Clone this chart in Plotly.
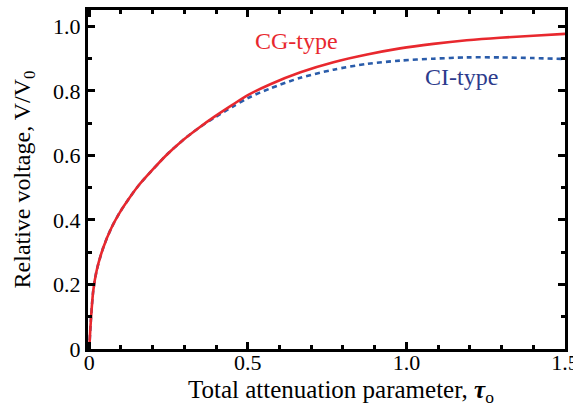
import plotly.graph_objects as go

tau = [0, 0.005, 0.0125, 0.023, 0.044, 0.070, 0.096, 0.127, 0.158, 0.197, 0.242, 0.296, 0.346,
       0.396, 0.45, 0.5, 0.571, 0.666, 0.77, 0.876, 0.98, 1.085, 1.19, 1.295, 1.4, 1.5]
cg_type = [0, 0.088, 0.180, 0.242, 0.314, 0.376, 0.423, 0.469, 0.510, 0.553, 0.600, 0.648, 0.686,
           0.721, 0.756, 0.787, 0.821, 0.858, 0.889, 0.913, 0.932, 0.946, 0.957, 0.965, 0.971, 0.977]
ci_type = [0, 0.088, 0.180, 0.242, 0.314, 0.376, 0.423, 0.469, 0.510, 0.553, 0.600, 0.648, 0.686,
           0.718, 0.750, 0.778, 0.808, 0.841, 0.866, 0.884, 0.894, 0.900, 0.904, 0.904, 0.902, 0.899]

x_ticks = [0, 0.5, 1.0, 1.5]
x_ticklabels = ["0", "0.5", "1.0", "1.5"]
y_ticks = [0, 0.2, 0.4, 0.6, 0.8, 1.0]
y_ticklabels = ["0", "0.2", "0.4", "0.6", "0.8", "1.0"]

FONT = "Liberation Serif"
RED = "#e8282e"
BLUE = "#2a5caa"
NAVY = "#2d3b8c"

fig = go.Figure()
fig.add_trace(go.Scatter(x=tau, y=ci_type, mode="lines", name="CI-type",
                         line=dict(color=BLUE, width=2.6, dash="5px,4px", shape="spline", smoothing=0.8)))
fig.add_trace(go.Scatter(x=tau, y=cg_type, mode="lines", name="CG-type",
                         line=dict(color=RED, width=2.6, shape="spline", smoothing=0.8)))

fig.add_annotation(x=0.653, y=0.955, text="CG-type", showarrow=False,
                   font=dict(family=FONT, size=24, color=RED))
fig.add_annotation(x=1.175, y=0.843, text="CI-type", showarrow=False,
                   font=dict(family=FONT, size=24, color=NAVY))

# x-axis title placed as annotation to match the reference position
fig.add_annotation(xref="paper", yref="paper", x=0.53, y=0, yshift=-42,
                   text="Total attenuation parameter, <b><i>τ</i></b><sub>o</sub>",
                   showarrow=False, yanchor="middle",
                   font=dict(family=FONT, size=25, color="black"))

axis_common = dict(showgrid=False, zeroline=False, showline=True, linecolor="black",
                   linewidth=3, mirror="allticks", ticks="inside", ticklen=7, tickwidth=2.5,
                   tickcolor="black", tickfont=dict(family=FONT, size=22, color="black"),
                   ticklabeloverflow="allow", automargin=False)

fig.update_xaxes(range=[-0.004, 1.5], tickvals=x_ticks, ticktext=x_ticklabels,
                 minor=dict(dtick=0.1, tick0=0, ticks="inside", ticklen=4, tickwidth=2.5, tickcolor="black"),
                 ticklabelstandoff=-8,
                 **axis_common)
fig.update_yaxes(range=[0, 1.051], tickvals=y_ticks, ticktext=y_ticklabels,
                 minor=dict(dtick=0.1, tick0=0, ticks="inside", ticklen=4, tickwidth=2.5, tickcolor="black"),
                 title=dict(text="Relative voltage, V/V<sub>0</sub>",
                            font=dict(family=FONT, size=24, color="black"), standoff=16),
                 ticklabelstandoff=0,
                 **axis_common)

fig.update_layout(width=573, height=410, margin=dict(l=88, r=8, t=10, b=61),
                  plot_bgcolor="white", paper_bgcolor="white", showlegend=False)

fig.write_html("out.html")
